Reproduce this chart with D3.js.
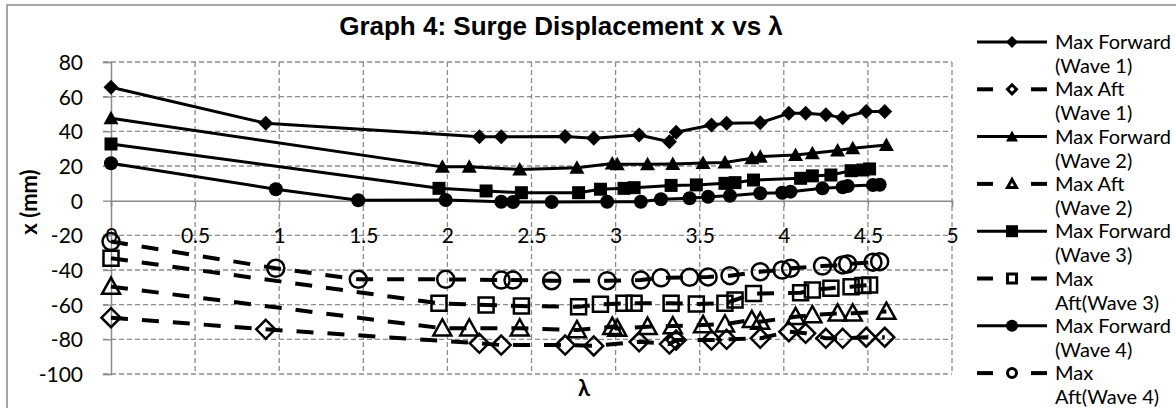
<!DOCTYPE html>
<html>
<head>
<meta charset="utf-8">
<script src="https://cdn.jsdelivr.net/npm/d3@7"></script>
<style>
  body { margin: 0; background: #fff; }
  svg { display: block; }
  text { font-family: Lato, "Open Sans", sans-serif; fill: #000; }
</style>
</head>
<body>
<svg id="chart" width="1176" height="408"></svg>
<script>
// x values (lambda) for each wave, and forward / aft surge in mm
let lambda1 = [0, 0.92, 2.19, 2.32, 2.70, 2.87, 3.14, 3.32, 3.36, 3.57, 3.66, 3.86, 4.03, 4.13, 4.25, 4.35, 4.49, 4.60];
let fwd1 = [65.4, 44.7, 36.9, 36.9, 37, 36, 37.9, 34, 39.5, 43.7, 44.6, 45, 50.4, 50.4, 49.5, 47.9, 51.4, 51.4];
let aft1 = [-67.5, -74.2, -82.3, -83.3, -83.3, -83.8, -81.4, -82.7, -80.4, -80.4, -80, -79.4, -75.6, -76.5, -79.4, -79.4, -78.8, -78.8];

let lambda2 = [0, 1.97, 2.13, 2.43, 2.77, 2.98, 3.01, 3.19, 3.34, 3.52, 3.65, 3.81, 3.86, 4.07, 4.17, 4.32, 4.41, 4.61];
let fwd2 = [47.5, 19.5, 19.6, 18, 19, 21.5, 21, 21, 21.2, 21.8, 22, 24.5, 25.4, 26.4, 27.3, 28.9, 30.2, 32.1];
let aft2 = [-49.6, -73.6, -73.6, -73.6, -74.6, -72.7, -73.8, -72.7, -72.3, -71.7, -71.3, -68.8, -69.8, -67, -66, -65, -65, -64];

let lambda3 = [0, 1.95, 2.23, 2.44, 2.78, 2.91, 3.05, 3.11, 3.33, 3.48, 3.65, 3.71, 3.82, 4.10, 4.17, 4.28, 4.40, 4.47, 4.51];
let fwd3 = [32.7, 7.1, 5.6, 4.6, 4.6, 6.6, 7.1, 7.5, 8.8, 9.1, 10, 10.4, 11.9, 12.9, 14.3, 14.8, 17.3, 17.7, 18.3];
let aft3 = [-33.2, -59.2, -60.2, -60.8, -61.2, -59.8, -59.2, -59.2, -59.2, -59.6, -59.2, -57.3, -53.6, -53.1, -51.5, -50.5, -49.6, -49, -48.6];

let lambda4 = [0, 0.98, 1.47, 1.99, 2.32, 2.39, 2.62, 2.95, 3.15, 3.27, 3.44, 3.55, 3.68, 3.86, 3.99, 4.04, 4.23, 4.35, 4.38, 4.53, 4.57];
let fwd4 = [21.6, 6.6, 0.2, 0.4, -0.6, -0.8, -0.8, -0.6, -0.6, 0.8, 1.4, 2.3, 2.8, 4.3, 4.6, 5.2, 7.1, 7.7, 8.5, 9.0, 9.2];
let aft4 = [-23.6, -39, -45.4, -45.4, -45.8, -45.8, -46.2, -46.2, -45.8, -44.5, -44.2, -44.0, -43.3, -41, -40, -39, -37.7, -37.1, -36.5, -35.5, -35.2];

let xTicks = [0, 0.5, 1, 1.5, 2, 2.5, 3, 3.5, 4, 4.5, 5];
let yTicks = [-100, -80, -60, -40, -20, 0, 20, 40, 60, 80];

let seriesNames = [
  ["Max Forward", "(Wave 1)"], ["Max Aft", "(Wave 1)"],
  ["Max Forward", "(Wave 2)"], ["Max Aft", "(Wave 2)"],
  ["Max Forward", "(Wave 3)"], ["Max", "Aft(Wave 3)"],
  ["Max Forward", "(Wave 4)"], ["Max", "Aft(Wave 4)"]
];

// custom marker shapes, "size" is used as half-extent
let shapes = {
  diamond: { draw(c, r) { c.moveTo(0, -r); c.lineTo(r, 0); c.lineTo(0, r); c.lineTo(-r, 0); c.closePath(); } },
  triangle: { draw(c, r) { c.moveTo(0, -r); c.lineTo(r, r * 0.8); c.lineTo(-r, r * 0.8); c.closePath(); } },
  square: { draw(c, r) { c.rect(-r, -r, 2 * r, 2 * r); } },
  circle: { draw(c, r) { c.moveTo(r, 0); c.arc(0, 0, r, 0, 2 * Math.PI); } }
};

let series = [
  { xs: lambda1, ys: fwd1, shape: "diamond", aft: false, r: 7.5 },
  { xs: lambda1, ys: aft1, shape: "diamond", aft: true, r: 9.5 },
  { xs: lambda2, ys: fwd2, shape: "triangle", aft: false, r: 7.5 },
  { xs: lambda2, ys: aft2, shape: "triangle", aft: true, r: 9 },
  { xs: lambda3, ys: fwd3, shape: "square", aft: false, r: 6.5 },
  { xs: lambda3, ys: aft3, shape: "square", aft: true, r: 7.5 },
  { xs: lambda4, ys: fwd4, shape: "circle", aft: false, r: 7 },
  { xs: lambda4, ys: aft4, shape: "circle", aft: true, r: 8.5 }
];

let svg = d3.select("#chart");

let x = d3.scaleLinear().domain([0, 5]).range([111, 952]);
let y = d3.scaleLinear().domain([-100, 80]).range([374, 62]);

// outer chart frame
svg.append("rect")
  .attr("x", 7).attr("y", 5).attr("width", 1200).attr("height", 430)
  .attr("fill", "none").attr("stroke", "#8a8a8a").attr("stroke-width", 1.5);

// gridlines
svg.append("g").selectAll("line")
  .data(yTicks.filter(d => d !== 0))
  .enter().append("line")
  .attr("x1", x(0) - 8).attr("x2", x(5))
  .attr("y1", d => y(d)).attr("y2", d => y(d))
  .attr("stroke", "#8c8c8c").attr("stroke-width", 1.3)
  .attr("stroke-dasharray", "5,3");

svg.append("g").selectAll("line")
  .data(xTicks.filter(d => d !== 0))
  .enter().append("line")
  .attr("x1", d => x(d)).attr("x2", d => x(d))
  .attr("y1", y(80)).attr("y2", y(-100))
  .attr("stroke", "#8c8c8c").attr("stroke-width", 1.3)
  .attr("stroke-dasharray", "5,3");

// axes
let yAxis = d3.axisLeft(y).tickValues(yTicks).tickSize(8).tickPadding(20).tickFormat(d => String(d));
let gy = svg.append("g").attr("transform", `translate(${x(0)},0)`).call(yAxis);
gy.select(".domain").attr("stroke", "#8a8a8a").attr("stroke-width", 1.5);
gy.selectAll(".tick line").attr("stroke", "#8a8a8a").attr("stroke-width", 1.3);
gy.selectAll(".tick text").style("font-family", "Lato").style("font-size", "21px").attr("dy", "0.36em");

let xAxis = d3.axisBottom(x).tickValues(xTicks).tickSize(6).tickPadding(36).tickFormat(d => String(d));
let gx = svg.append("g").attr("transform", `translate(0,${y(0)})`).call(xAxis);
gx.select(".domain").attr("stroke", "#8a8a8a").attr("stroke-width", 1.5);
gx.selectAll(".tick line").attr("stroke", "#8a8a8a").attr("stroke-width", 1.3);
gx.selectAll(".tick text").style("font-family", "Lato").style("font-size", "21px").attr("dy", "0");
svg.selectAll(".tick text").attr("fill", "#000");

// series
let line = d3.line().x(d => x(d[0])).y(d => y(d[1]));

series.forEach(s => {
  let pts = s.xs.map((v, i) => [v, s.ys[i]]);
  svg.append("path")
    .datum(pts)
    .attr("d", line)
    .attr("fill", "none")
    .attr("stroke", "#000")
    .attr("stroke-width", s.aft ? 4 : 3)
    .attr("stroke-dasharray", s.aft ? "17,14" : null)
    .attr("stroke-linejoin", "round");

  svg.append("g").selectAll("path")
    .data(pts)
    .enter().append("path")
    .attr("transform", d => `translate(${x(d[0])},${y(d[1])})`)
    .attr("d", d3.symbol().type(shapes[s.shape]).size(s.r))
    .attr("fill", s.aft ? "none" : "#000")
    .attr("stroke", "#000")
    .attr("stroke-width", s.aft ? 2.5 : 0);
});

// title and axis titles
svg.append("text")
  .attr("x", 561).attr("y", 35)
  .attr("text-anchor", "middle")
  .style("font-family", "'Liberation Sans', Arial, sans-serif")
  .style("font-weight", "bold").style("font-size", "26px")
  .text("Graph 4: Surge Displacement x vs λ");

svg.append("text")
  .attr("transform", "translate(37,202) rotate(-90)")
  .attr("text-anchor", "middle")
  .style("font-weight", "bold").style("font-size", "22px")
  .text("x (mm)");

svg.append("text")
  .attr("x", 584).attr("y", 396)
  .attr("text-anchor", "middle")
  .style("font-weight", "bold").style("font-size", "22px")
  .text("λ");

// legend
let legend = svg.append("g");
series.forEach((s, i) => {
  let ly = 42 + i * 47.3;
  let g = legend.append("g").attr("transform", `translate(0,${ly})`);
  if (s.aft) {
    g.append("line").attr("x1", 977).attr("x2", 993).attr("y1", 0).attr("y2", 0)
      .attr("stroke", "#000").attr("stroke-width", 4);
    g.append("line").attr("x1", 1031).attr("x2", 1047).attr("y1", 0).attr("y2", 0)
      .attr("stroke", "#000").attr("stroke-width", 4);
  } else {
    g.append("line").attr("x1", 977).attr("x2", 1047).attr("y1", 0).attr("y2", 0)
      .attr("stroke", "#000").attr("stroke-width", 3);
  }
  g.append("path")
    .attr("transform", "translate(1012,0)")
    .attr("d", d3.symbol().type(shapes[s.shape]).size(s.aft ? 4.5 : 6))
    .attr("fill", s.aft ? "#fff" : "#000")
    .attr("stroke", "#000")
    .attr("stroke-width", s.aft ? 3 : 0);
  g.append("text").attr("x", 1055).attr("y", 7).style("font-size", "20px").text(seriesNames[i][0]);
  g.append("text").attr("x", 1055).attr("y", 31).style("font-size", "20px").text(seriesNames[i][1]);
});
</script>
</body>
</html>
